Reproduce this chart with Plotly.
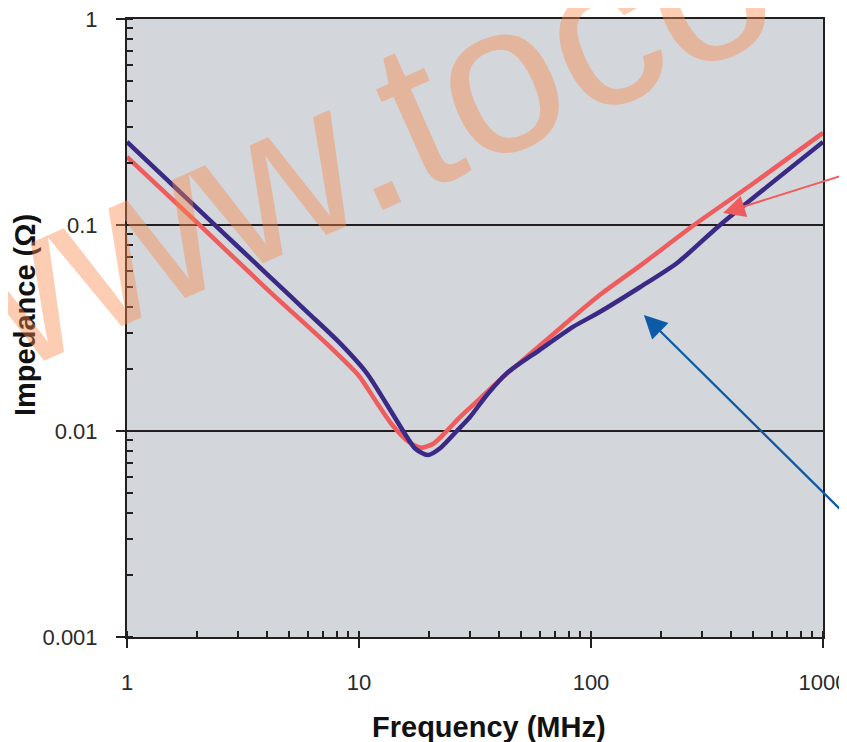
import plotly.graph_objects as go

# ── Data (frequency in MHz, impedance in ohm) ──
freq_red = [1, 2, 4, 7.5, 10, 12, 14, 16.5, 18.6, 21, 23.9, 27.3, 32, 40.5,
            66, 109, 163, 278, 500, 1000]
imp_red = [0.214, 0.103, 0.049, 0.0256, 0.0185, 0.0136, 0.0106, 0.0088, 0.0083,
           0.0087, 0.0100, 0.0117, 0.0138, 0.0177, 0.0284, 0.0457, 0.0635,
           0.100, 0.159, 0.280]

freq_blue = [1, 2.44, 4.13, 6, 8.28, 10.8, 13, 15.5, 17.5, 19.8, 22.5, 26.4,
             30.1, 36, 43.4, 60, 83.6, 109, 163, 235, 360, 1000]
imp_blue = [0.253, 0.098, 0.056, 0.0377, 0.0267, 0.0191, 0.0138, 0.0100, 0.0082,
            0.00764, 0.0083, 0.0100, 0.0117, 0.0152, 0.0191, 0.0247, 0.032,
            0.0378, 0.050, 0.0654, 0.100, 0.253]

x_ticks = [1, 10, 100, 1000]
x_labels = ["1", "10", "100", "1000"]
y_ticks = [0.001, 0.01, 0.1, 1]
y_labels = ["0.001", "0.01", "0.1", "1"]

RED = "#EF5C5E"
NAVY = "#3A2A86"
ARROW_BLUE = "#0D5BA6"
INK = "#231F20"
PLOT_BG = "#D3D6DA"

fig = go.Figure()
fig.add_trace(go.Scatter(x=freq_red, y=imp_red, mode="lines",
                         line=dict(color=RED, width=4.5, shape="spline", smoothing=0.7),
                         showlegend=False))
fig.add_trace(go.Scatter(x=freq_blue, y=imp_blue, mode="lines",
                         line=dict(color=NAVY, width=4.5, shape="spline", smoothing=0.7),
                         showlegend=False))

axis_common = dict(
    type="log",
    tickmode="array",
    automargin=False,
    ticklabeloverflow="allow",
    showline=True, linecolor=INK, linewidth=2, mirror=True,
    ticks="outside", ticklen=9, tickwidth=2, tickcolor=INK,
    tickfont=dict(family="Liberation Sans, Arial", size=22, color="#2a2a2a"),
    zeroline=False,
    minor=dict(tickmode="linear", dtick="D1", ticks="inside", ticklen=6,
               tickwidth=1.6, tickcolor=INK, showgrid=False),
)

fig.update_xaxes(**axis_common, tickvals=x_ticks, ticktext=x_labels,
                 range=[0, 3], showgrid=False, ticklabelstandoff=16)
fig.update_yaxes(**axis_common, tickvals=y_ticks, ticktext=y_labels,
                 range=[-3, 0], showgrid=True, gridcolor=INK, gridwidth=2,
                 ticklabelstandoff=14)

annotations = [
    # axis titles
    dict(text="<b>Frequency (MHz)</b>", xref="paper", yref="paper",
         x=0.52, y=-0.1456, xanchor="center", yanchor="middle", showarrow=False,
         font=dict(family="Liberation Sans, Arial", size=29, color="#111")),
    dict(text="<b>Impedance (Ω)</b>", xref="paper", yref="paper",
         x=-0.1466, y=0.521, xanchor="center", yanchor="middle", showarrow=False,
         textangle=-90,
         font=dict(family="Liberation Sans, Arial", size=29, color="#111")),
    # pointer arrows coming in from the right edge
    dict(x=2.569, y=-0.942, xref="x", yref="y", ax=161, ay=-39, text="",
         showarrow=True, arrowhead=2, arrowsize=2.2, arrowwidth=2,
         arrowcolor=RED, standoff=0),
    dict(x=2.228, y=-1.437, xref="x", yref="y", ax=264, ay=201, text="",
         showarrow=True, arrowhead=2, arrowsize=2.1, arrowwidth=2.2,
         arrowcolor=ARROW_BLUE, standoff=0),
    # watermark
    dict(text="www.toco", xref="paper", yref="paper", x=0.306, y=0.792,
         xanchor="center", yanchor="middle", showarrow=False, textangle=-24,
         font=dict(family="Liberation Sans, Arial", size=214,
                   color="rgba(250,135,74,0.42)")),
]

# the page body has an 8px margin, so the figure is 8px smaller than the window
fig.update_layout(
    width=839, height=734,
    margin=dict(l=119, r=24, t=11, b=105),
    paper_bgcolor="white",
    plot_bgcolor=PLOT_BG,
    annotations=annotations,
    showlegend=False,
)

fig.write_html("out.html")
